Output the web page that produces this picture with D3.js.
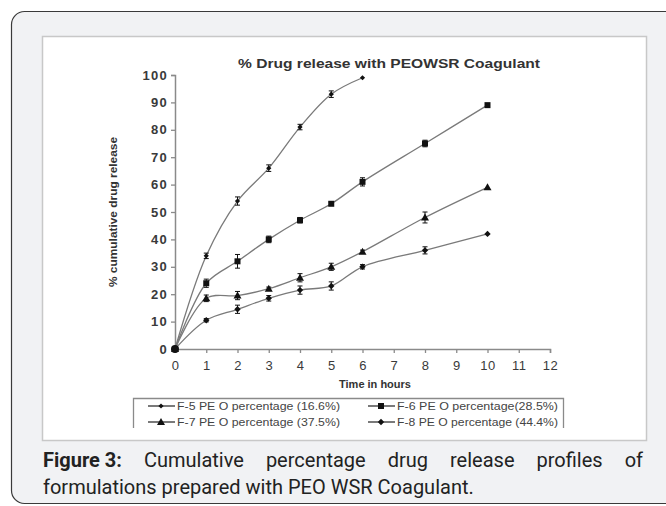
<!DOCTYPE html>
<html>
<head>
<meta charset="utf-8">
<script src="https://cdn.jsdelivr.net/npm/d3@7/dist/d3.min.js"></script>
<style>
  html, body { margin: 0; padding: 0; background: #fff; }
  svg { display: block; }
</style>
</head>
<body>
<svg id="fig" width="666" height="506"></svg>
<script>
// Sampling times (hours)
const hours = [0, 1, 2, 3, 4, 5, 6, 8, 10];

// Cumulative % drug release per formulation
const f5Release = [0, 34, 54, 66, 81, 93, 99];
const f6Release = [0, 24, 32, 40, 47, 53, 61, 75, 89];
const f7Release = [0, 18.5, 19.5, 22, 26, 30, 35.5, 48, 59];
const f8Release = [0, 10.5, 14.5, 18.5, 21.5, 23, 30, 36, 42];

// Standard deviation of each point
const f5Err = [0, 1, 1.5, 1.2, 1, 1.2, 0];
const f6Err = [0, 1.5, 2.5, 1.2, 1, 0.6, 1.5, 1.2, 0];
const f7Err = [0, 1.2, 1.5, 0.6, 1.5, 1.3, 0.6, 2, 0];
const f8Err = [0, 0.6, 1.5, 1, 1.5, 1.5, 0.8, 1.3, 0];

const seriesNames = [
  "F-5 PE O percentage (16.6%)",
  "F-6 PE O percentage(28.5%)",
  "F-7 PE O percentage (37.5%)",
  "F-8 PE O percentage (44.4%)"
];
const seriesMarkers = ["smalldiamond", "square", "triangle", "diamond"];

const xTicks = d3.range(0, 13);
const yTicks = d3.range(0, 101, 10);

const chartTitle = "% Drug release with PEOWSR Coagulant";
const xTitle = "Time in hours";
const yTitle = "% cumulative drug release";
const captionBold = "Figure 3:";
const captionLine1 = "Cumulative percentage drug release profiles of";
const captionLine2 = "formulations prepared with PEO WSR Coagulant.";

const series = [f5Release, f6Release, f7Release, f8Release].map((vals, i) => ({
  name: seriesNames[i],
  marker: seriesMarkers[i],
  points: vals.map((v, j) => ({ t: hours[j], v, e: [f5Err, f6Err, f7Err, f8Err][i][j] }))
}));

const svg = d3.select("#fig");

// Card frame with rounded corners
svg.append("rect")
  .attr("x", 11.5).attr("y", 11.5).attr("width", 670).attr("height", 492)
  .attr("rx", 13).attr("ry", 13)
  .attr("fill", "#f1f2f4").attr("stroke", "#3a3a3a").attr("stroke-width", 1.2);

// White plot panel
svg.append("rect")
  .attr("x", 42.5).attr("y", 36.5).attr("width", 604).attr("height", 404)
  .attr("fill", "#fff").attr("stroke", "#c8c8c8").attr("stroke-width", 1.5);

const x = d3.scaleLinear().domain([0, 12]).range([175, 550]);
const y = d3.scaleLinear().domain([0, 100]).range([349, 75]);

const font = "'Liberation Sans', Arial, sans-serif";

// Title
svg.append("text")
  .attr("x", 238).attr("y", 68)
  .attr("textLength", 302).attr("lengthAdjust", "spacingAndGlyphs")
  .attr("font-family", font).attr("font-weight", "bold").attr("font-size", 13)
  .attr("fill", "#333")
  .text(chartTitle);

// Axes
const axisColor = "#8a8a8a";
const gx = svg.append("g").attr("transform", `translate(0,${y(0)})`)
  .call(d3.axisBottom(x).tickValues(xTicks).tickSize(4).tickPadding(8).tickFormat(d3.format("d")));
const gy = svg.append("g").attr("transform", `translate(${x(0)},0)`)
  .call(d3.axisLeft(y).tickValues(yTicks).tickSize(4).tickPadding(3).tickFormat(d3.format("d")));
[gx, gy].forEach(g => {
  g.select(".domain").attr("stroke", axisColor).attr("stroke-width", 1.5);
  g.selectAll(".tick line").attr("stroke", axisColor).attr("stroke-width", 1.3);
  g.selectAll(".tick text").attr("font-family", font).attr("fill", "#3a3a3a");
});
gx.selectAll(".tick text").attr("font-size", 13).attr("letter-spacing", 0.5);
gy.selectAll(".tick text").attr("font-size", 13).attr("font-weight", "bold").attr("letter-spacing", 1.3);

svg.append("text")
  .attr("x", 375).attr("y", 388)
  .attr("text-anchor", "middle")
  .attr("font-family", font).attr("font-weight", "bold").attr("font-size", 11)
  .attr("fill", "#333")
  .text(xTitle);

svg.append("text")
  .attr("transform", `translate(117,212) rotate(-90)`)
  .attr("text-anchor", "middle")
  .attr("textLength", 150).attr("lengthAdjust", "spacingAndGlyphs")
  .attr("font-family", font).attr("font-weight", "bold").attr("font-size", 11)
  .attr("fill", "#333")
  .text(yTitle);

// Marker shapes
function markerPath(kind) {
  if (kind === "square") return "M-3,-3H3V3H-3Z";
  if (kind === "triangle") return "M0,-4L4,3H-4Z";
  if (kind === "diamond") return "M0,-3.2L3.2,0L0,3.2L-3.2,0Z";
  return "M0,-2.6L2.6,0L0,2.6L-2.6,0Z";
}

const line = d3.line()
  .x(d => x(d.t)).y(d => y(d.v))
  .curve(d3.curveCatmullRom.alpha(0.5));

const plot = svg.append("g");
series.forEach(s => {
  plot.append("path")
    .attr("d", line(s.points))
    .attr("fill", "none").attr("stroke", "#7a7a7a").attr("stroke-width", 1.3);
});

series.forEach(s => {
  const g = plot.append("g");
  // error bars
  s.points.filter(p => p.e > 0).forEach(p => {
    const cx = x(p.t), y1 = y(p.v + p.e), y2 = y(p.v - p.e);
    g.append("path")
      .attr("d", `M${cx},${y1}V${y2}M${cx - 2.5},${y1}H${cx + 2.5}M${cx - 2.5},${y2}H${cx + 2.5}`)
      .attr("stroke", "#111").attr("stroke-width", 1).attr("fill", "none");
  });
  g.selectAll("path.mk").data(s.points).join("path")
    .attr("class", "mk")
    .attr("transform", p => `translate(${x(p.t)},${y(p.v)})`)
    .attr("d", markerPath(s.marker))
    .attr("fill", "#111");
});

// Origin dot where all curves start
plot.append("circle").attr("cx", x(0)).attr("cy", y(0)).attr("r", 4).attr("fill", "#111");

// Legend
const legend = svg.append("g");
legend.append("path")
  .attr("d", "M133.5,428V398.5H563.5V428")
  .attr("fill", "none").attr("stroke", "#8a8a8a").attr("stroke-width", 1.3);
const legendPos = [
  { lx: 148, ty: 406 }, { lx: 368, ty: 406 },
  { lx: 148, ty: 422 }, { lx: 368, ty: 422 }
];
series.forEach((s, i) => {
  const p = legendPos[i];
  legend.append("line")
    .attr("x1", p.lx).attr("x2", p.lx + 27).attr("y1", p.ty).attr("y2", p.ty)
    .attr("stroke", "#222").attr("stroke-width", 1.2);
  legend.append("path")
    .attr("transform", `translate(${p.lx + 13},${p.ty})`)
    .attr("d", markerPath(s.marker)).attr("fill", "#111");
  legend.append("text")
    .attr("x", p.lx + 29).attr("y", p.ty + 4)
    .attr("textLength", i % 2 === 0 ? 163 : 161).attr("lengthAdjust", "spacingAndGlyphs")
    .attr("font-family", font).attr("font-size", 11.5).attr("fill", "#444")
    .text(s.name);
});

// Caption: first line justified word by word between the panel edges
const capFont = "Roboto, 'Liberation Sans', sans-serif";
const capSize = 20;
const capLeft = 43, capRight = 643;
const capWords = [{ w: captionBold, bold: true }]
  .concat(captionLine1.split(" ").map(w => ({ w, bold: false })));
const capG = svg.append("g");
const capNodes = capWords.map(d => capG.append("text")
  .attr("y", 467)
  .attr("font-family", capFont).attr("font-size", capSize)
  .attr("font-weight", d.bold ? "bold" : "normal")
  .attr("fill", "#222")
  .text(d.w));
const widths = capNodes.map(n => n.node().getComputedTextLength());
const gap = (capRight - capLeft - d3.sum(widths)) / (capNodes.length - 1);
let cx = capLeft;
capNodes.forEach((n, i) => { n.attr("x", cx); cx += widths[i] + gap; });

svg.append("text")
  .attr("x", capLeft).attr("y", 494)
  .attr("font-family", capFont).attr("font-size", capSize).attr("fill", "#222")
  .text(captionLine2);
</script>
</body>
</html>
